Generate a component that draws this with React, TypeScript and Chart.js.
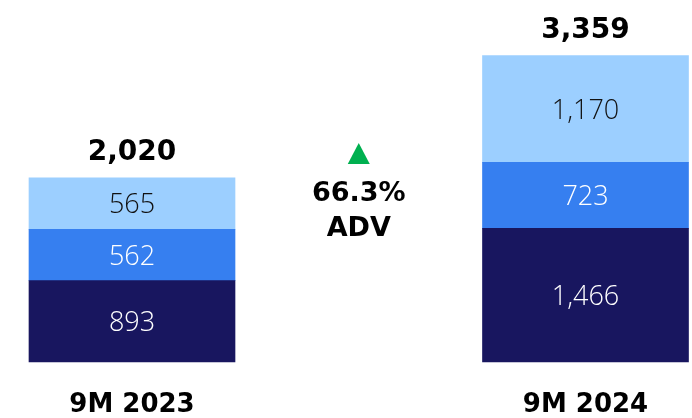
import React, { useEffect, useRef } from "react";
import { Chart, registerables } from "chart.js";

Chart.register(...registerables);

// Average daily volume by component, nine-month periods
const categories = ["9M 2023", "9M 2024"];
const baseSeries = [893, 1466];
const midSeries = [562, 723];
const topSeries = [565, 1170];
const totals = [2020, 3359];
const changeText = "66.3%";
const changeMetric = "ADV";

const NAVY = "#18165f";
const BLUE = "#367ff0";
const SKY = "#9ccfff";
const GREEN = "#00b050";

const BOLD_FONT = '"DejaVu Sans", "Liberation Sans", sans-serif';
const LIGHT_FONT = '"Open Sans", "DejaVu Sans", sans-serif';

const fmt = (v: number) => v.toLocaleString("en-US");

const labelsPlugin = {
  id: "barLabels",
  afterDatasetsDraw(chart: any) {
    const { ctx, chartArea } = chart;
    ctx.save();
    ctx.textAlign = "center";
    ctx.textBaseline = "middle";

    // values inside each segment
    chart.data.datasets.forEach((ds: any, di: number) => {
      const meta = chart.getDatasetMeta(di);
      meta.data.forEach((el: any, i: number) => {
        const cy = (el.y + el.base) / 2 + 2;
        ctx.fillStyle = ds.labelColor;
        ctx.font = `300 27px ${LIGHT_FONT}`;
        ctx.fillText(fmt(ds.data[i]), el.x, cy);
      });
    });

    // totals above each stack
    const lastMeta = chart.getDatasetMeta(chart.data.datasets.length - 1);
    lastMeta.data.forEach((el: any, i: number) => {
      ctx.fillStyle = "#000";
      ctx.font = `bold 28px ${BOLD_FONT}`;
      ctx.fillText(fmt(totals[i]), el.x, el.y - 25);
    });

    // growth annotation between the stacks
    const first = lastMeta.data[0];
    const last = lastMeta.data[lastMeta.data.length - 1];
    const mx = (first.x + last.x) / 2;
    const t = chartArea.top;
    ctx.fillStyle = GREEN;
    ctx.beginPath();
    ctx.moveTo(mx, t + 123);
    ctx.lineTo(mx + 11, t + 144);
    ctx.lineTo(mx - 11, t + 144);
    ctx.closePath();
    ctx.fill();

    ctx.fillStyle = "#000";
    ctx.font = `bold 27px ${BOLD_FONT}`;
    ctx.fillText(changeText, mx, t + 174);
    ctx.fillText(changeMetric, mx, t + 209);
    ctx.restore();
  },
};

export default function App() {
  const canvasRef = useRef<HTMLCanvasElement | null>(null);

  useEffect(() => {
    if (!canvasRef.current) return;
    const chart = new Chart(canvasRef.current, {
      type: "bar",
      data: {
        labels: categories,
        datasets: [
          { data: baseSeries, backgroundColor: NAVY, labelColor: "#ffffff" } as any,
          { data: midSeries, backgroundColor: BLUE, labelColor: "#ffffff" } as any,
          { data: topSeries, backgroundColor: SKY, labelColor: "#111111" } as any,
        ].map((d) => ({ ...d, barThickness: 206, borderWidth: 0, clip: false })),
      },
      options: {
        responsive: false,
        maintainAspectRatio: false,
        animation: false,
        devicePixelRatio: 1,
        layout: { padding: { left: 132, right: 106.5, top: 20, bottom: 2 } },
        plugins: { legend: { display: false }, tooltip: { enabled: false } },
        scales: {
          x: {
            stacked: true,
            offset: false,
            grid: { display: false, drawTicks: false },
            border: { display: false },
            afterFit: (scale: any) => {
              scale.height = 54;
            },
            ticks: {
              color: "#000",
              padding: 28,
              maxRotation: 0,
              font: { family: BOLD_FONT, size: 26, weight: "bold" },
            },
          },
          y: { stacked: true, display: false, min: 0, max: 3750 },
        },
      },
      plugins: [labelsPlugin],
    });
    return () => chart.destroy();
  }, []);

  return (
    <div style={{ position: "fixed", left: 0, top: 0, width: 692, height: 418, background: "#fff" }}>
      <canvas ref={canvasRef} width={692} height={418} />
    </div>
  );
}
